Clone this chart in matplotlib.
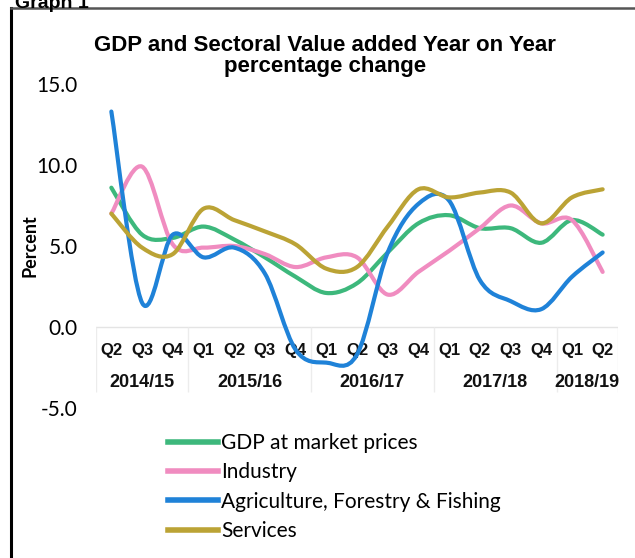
import numpy as np
import matplotlib
matplotlib.use("Agg")
import matplotlib.pyplot as plt
from matplotlib.path import Path
from matplotlib.patches import PathPatch
from matplotlib.lines import Line2D

quarters = ["Q2", "Q3", "Q4", "Q1", "Q2", "Q3", "Q4", "Q1", "Q2",
            "Q3", "Q4", "Q1", "Q2", "Q3", "Q4", "Q1", "Q2"]
years = ["2014/15", "2015/16", "2016/17", "2017/18", "2018/19"]
year_centres = [1, 4.5, 8.5, 12.5, 15.5]
year_breaks = [-0.5, 2.5, 6.5, 10.5, 14.5, 16.5]

gdp = [8.6, 5.7, 5.5, 6.2, 5.4, 4.3, 3.1, 2.1, 2.7, 4.6, 6.4, 6.9, 6.1, 6.1, 5.2, 6.6, 5.7]
industry = [7.0, 9.9, 5.1, 4.9, 5.0, 4.5, 3.7, 4.3, 4.3, 2.0, 3.4, 4.7, 6.1, 7.5, 6.4, 6.6, 3.4]
agri = [13.3, 1.5, 5.7, 4.3, 4.9, 3.3, -1.4, -2.2, -1.7, 4.6, 7.6, 7.8, 2.9, 1.6, 1.1, 3.1, 4.6]
services = [7.0, 4.9, 4.5, 7.3, 6.6, 5.9, 5.1, 3.6, 3.7, 6.2, 8.5, 8.0, 8.3, 8.3, 6.4, 8.0, 8.5]

series = [
    ("GDP at market prices", gdp, "#3db87c"),
    ("Industry", industry, "#f08cc0"),
    ("Agriculture, Forestry & Fishing", agri, "#1f82d8"),
    ("Services", services, "#bba335"),
]


def smooth_path(xs, ys):
    # Excel-like smoothed line: Catmull-Rom turned into cubic Bezier segments
    pts = np.column_stack([xs, ys]).astype(float)
    ext = np.vstack([pts[0], pts, pts[-1]])
    verts = [pts[0]]
    codes = [Path.MOVETO]
    for i in range(len(pts) - 1):
        p0, p1, p2, p3 = ext[i], ext[i + 1], ext[i + 2], ext[i + 3]
        verts += [p1 + (p2 - p0) / 6, p2 - (p3 - p1) / 6, p2]
        codes += [Path.CURVE4] * 3
    return Path(verts, codes)


fig = plt.figure(figsize=(6.35, 5.58), dpi=100)
W, H = 635, 558
ax = fig.add_axes([96 / W, (H - 408) / H, (618 - 96) / W, (408 - 84) / H])

x = np.arange(len(quarters))
for name, vals, col in series:
    ax.add_patch(PathPatch(smooth_path(x, vals), facecolor="none", edgecolor=col,
                           lw=3, capstyle="round", joinstyle="round", zorder=3))

ax.set_xlim(-0.5, 16.5)
ax.set_ylim(-5, 15)
ax.set_yticks([-5, 0, 5, 10, 15])
ax.set_yticklabels(["-5.0", "0.0", "5.0", "10.0", "15.0"], fontfamily="Lato", fontsize=15)
ax.tick_params(axis="y", length=0, pad=13)
ax.set_xticks([])
for s in ax.spines.values():
    s.set_visible(False)
ax.set_ylabel("Percent", fontfamily="Lato", fontweight="bold", fontsize=13, labelpad=-1)

# category table under the zero line
ax.axhline(0, color="#e4e4e4", lw=1, zorder=1)
ax.vlines(year_breaks, -4.0, 0, color="#ececec", lw=1, zorder=1)
for i, q in enumerate(quarters):
    ax.text(i, -1.42, q, ha="center", va="center", fontfamily="Liberation Sans",
            fontweight="bold", fontsize=12, color="#111111", zorder=2)
for c, yr in zip(year_centres, years):
    ax.text(c, -3.4, yr, ha="center", va="center", fontfamily="Liberation Sans",
            fontweight="bold", fontsize=13, color="#111111", zorder=2)

fig.text(325 / W, 1 - 56 / H, "GDP and Sectoral Value added Year on Year\npercentage change",
         ha="center", va="center", fontfamily="Liberation Sans", fontweight="bold",
         fontsize=16, linespacing=1.0)

# chart frame and the caption cut by the page edge
fig.add_artist(Line2D([11 / W, 11 / W], [0, 1 - 8 / H], color="black", lw=2.2))
fig.add_artist(Line2D([11 / W, 1], [1 - 8 / H, 1 - 8 / H], color="#555555", lw=1.8))
fig.text(15 / W, 1 - 3 / H, "Graph 1", ha="left", va="center", fontfamily="Liberation Sans",
         fontweight="bold", fontsize=14)

handles = [Line2D([], [], color=c, lw=4) for _, _, c in series]
fig.legend(handles, [n for n, _, _ in series], loc="upper left",
           bbox_to_anchor=(168 / W, 1 - 433 / H), frameon=False, prop={"family": "Lato", "size": 15},
           handlelength=2.4, handletextpad=0.15, labelspacing=0.45, borderpad=0, borderaxespad=0)

fig.savefig("out.png", dpi=100)
